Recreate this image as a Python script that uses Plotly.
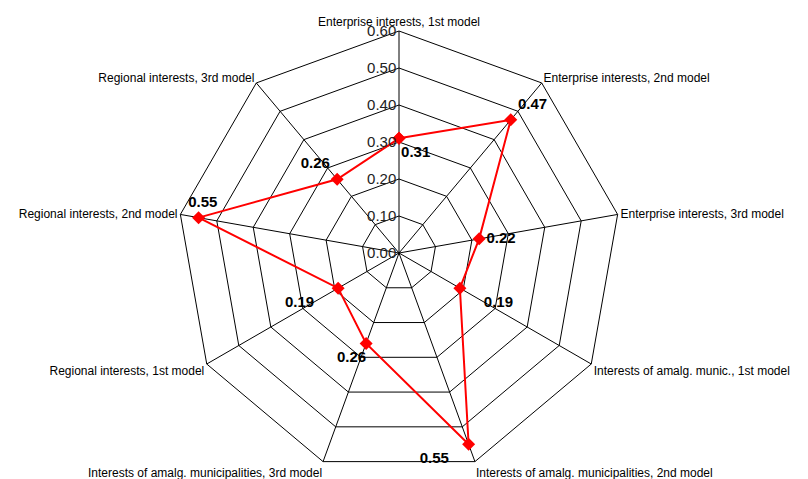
import plotly.graph_objects as go

# axis categories, clockwise from the top
categories = [
    "Enterprise interests, 1st model",
    "Enterprise interests, 2nd model",
    "Enterprise interests, 3rd model",
    "Interests of amalg. munic., 1st model",
    "Interests of amalg. municipalities, 2nd model",
    "Interests of amalg. municipalities, 3rd model",
    "Regional interests, 1st model",
    "Regional interests, 2nd model",
    "Regional interests, 3rd model",
]
values = [0.31, 0.47, 0.22, 0.19, 0.55, 0.26, 0.19, 0.55, 0.26]
radial_ticks = [0.0, 0.1, 0.2, 0.3, 0.4, 0.5, 0.6]

# where each value label sits relative to its marker, plus nbsp padding (left, right)
label_pos = ["bottom center", "top right", "middle right", "bottom right",
             "bottom left", "bottom center", "bottom left", "top center", "top left"]
label_pad = [(8, 0), (0, 0), (0, 0), (4, 0), (0, 3), (0, 7), (0, 4), (2, 0), (0, 0)]

W, H = 808, 479
cx, cy, R = 399, 253, 222  # polar centre and outer radius in px

nb = "\u00a0"
labels = [nb * a + f"{v:.2f}" + nb * b for v, (a, b) in zip(values, label_pad)]

fig = go.Figure()
fig.add_trace(go.Scatterpolar(
    r=values + values[:1],
    theta=categories + categories[:1],
    mode="lines+markers+text",
    line=dict(color="#ff0000", width=2),
    marker=dict(symbol="diamond", size=10, color="#ff0000"),
    text=labels + [""],
    textposition=label_pos + ["top center"],
    textfont=dict(family="Liberation Sans", size=15, color="black", weight="bold"),
    cliponaxis=False,
    showlegend=False,
))

fig.update_layout(
    width=W, height=H,
    margin=dict(l=0, r=0, t=0, b=0),
    paper_bgcolor="white",
    font=dict(family="Liberation Sans", color="black"),
    polar=dict(
        domain=dict(x=[(cx - R) / W, (cx + R) / W], y=[(H - cy - R) / H, (H - cy + R) / H]),
        gridshape="linear",
        bgcolor="white",
        radialaxis=dict(
            range=[0, 0.6], tickvals=radial_ticks, tickformat=".2f",
            angle=90, tickangle=90, side="counterclockwise",
            showline=False, ticks="", gridcolor="black", gridwidth=1,
            tickfont=dict(size=15, color="#222"),
        ),
        angularaxis=dict(
            direction="clockwise", rotation=90,
            linecolor="black", linewidth=1, gridcolor="black", gridwidth=1,
            ticks="", tickfont=dict(size=12, color="black"),
        ),
    ),
)

# page body has a default 8px margin; drop it so the figure sits at 0,0
fig.write_html("out.html", config={"displayModeBar": False},
               post_script="document.body.style.margin='0';")
